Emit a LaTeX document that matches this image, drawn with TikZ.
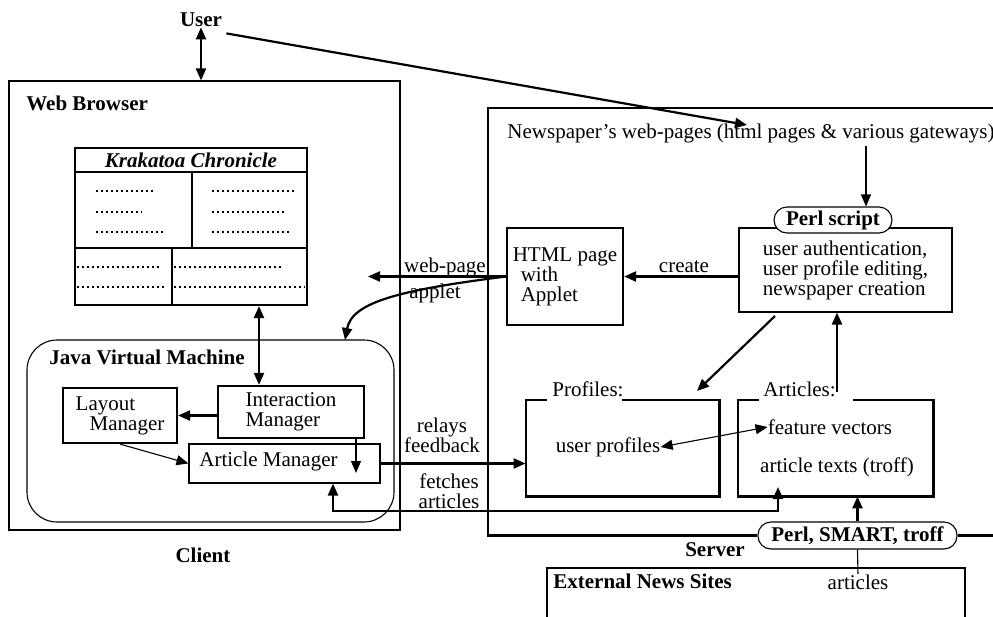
\documentclass[tikz,border=0pt]{standalone}
\usepackage{fontspec}
\setmainfont{Liberation Serif}
\usetikzlibrary{arrows.meta,calc}
\begin{document}
\begin{tikzpicture}[x=0.5pt,y=-0.5pt,
  every node/.style={font=\fontsize{10.5}{10}\selectfont, inner sep=0pt},
  thk/.style={line width=1.1pt},
  thn/.style={line width=0.55pt},
  box/.style={draw, rectangle, inner sep=0pt},
  tip/.style={-{Triangle[length=6pt,width=5pt]}},
  tips/.style={{Triangle[length=6pt,width=5pt]}-{Triangle[length=6pt,width=5pt]}},
  dots/.style={line width=0.9pt, dash pattern=on 0.8pt off 1.7pt},
  bold/.style={font=\fontsize{10.5}{10}\selectfont\bfseries},
]
\useasboundingbox (0,0) rectangle (993,617);

% ---------- Client side ----------
\node[bold] (user) at (201,20) {User};
\node[box,thn,minimum width=195.5pt,minimum height=224.5pt] (browser) at (204.5,305.5) {};
\node[bold,anchor=west] (browserlbl) at (26,103) {Web Browser};

\node[box,thk,minimum width=116pt,minimum height=78.5pt] (krak) at (191,226.5) {};
\node[font=\fontsize{10.5}{10}\selectfont\bfseries\itshape] (kraktitle) at (191,160) {Krakatoa Chronicle};
\draw[thk] (75,172) -- (307,172) (192,172) -- (192,248) (75,248) -- (307,248) (172,248) -- (172,305);
\draw[dots] (96,191) -- (153,191) (96,212) -- (142,212) (96,232) -- (163,232)
  (212,191) -- (295,191) (212,212) -- (285,212) (212,232) -- (290,232)
  (77,267) -- (160,267) (77,287) -- (166,287)
  (174,267) -- (283,267) (174,287) -- (305,287);

\node[box,thn,rounded corners=15pt,minimum width=183.5pt,minimum height=91pt] (jvm) at (210.5,431) {};
\node[bold,anchor=west] (jvmlbl) at (49,357) {Java Virtual Machine};
\node[box,thk,minimum width=57pt,minimum height=27.5pt,align=left] (layout) at (120,415.5) {Layout\\\hspace*{7pt}Manager};
\node[box,thk,minimum width=73pt,minimum height=26pt,align=left] (inter) at (291,412) {Interaction\\Manager};
\node[box,thn,minimum width=95.5pt,minimum height=19.5pt] (artm) at (284.5,463.5) {};
\node[anchor=west] (artmtxt) at (199,461) {Article Manager};
\node[bold] (client) at (203,555) {Client};

% ---------- Server side ----------
\node[draw,thn,rounded corners=6.5pt,minimum width=99.5pt,minimum height=13.5pt,bold] (smart) at (857.5,535.5) {Perl, SMART, troff};
\draw[thk] (993,108) -- (488,108) |- (smart.west);
\draw[thk] (smart.east) -- (993,535.5);
\node[bold] (server) at (715,550) {Server};

\node (webpages) at (751,133) {Newspaper’s web-pages (html pages \& various gateways)};
\node[box,thk,minimum width=58pt,minimum height=48.5pt,align=left] (html) at (565,276.5) {HTML page\\\hspace*{4pt}with\\\hspace*{4pt}Applet};
\node[box,thn,minimum width=106.5pt,minimum height=42pt,align=left] (perlbox) at (845.5,270) {user authentication,\\user profile editing,\\newspaper creation};
\node[draw,thn,fill=white,rounded corners=6.5pt,minimum width=59pt,minimum height=13pt,bold] (perlpill) at (833,220) {Perl script};

\node[minimum width=96.5pt,minimum height=48pt] (profiles) at (622.5,448) {};
\draw[thk] ([xshift=10.5pt]profiles.north west) -- (profiles.north west) -- (profiles.south west) -- (profiles.south east) -- (profiles.north east) -- ([xshift=-48.5pt]profiles.north east);
\node[anchor=west] (proflbl) at (552,389) {Profiles:};
\node[minimum width=97.5pt,minimum height=48pt] (articles) at (835.5,448) {};
\draw[thk] ([xshift=10.5pt]articles.north west) -- (articles.north west) -- (articles.south west) -- (articles.south east) -- (articles.north east) -- ([xshift=-40pt]articles.north east);
\node[anchor=west] (artlbl) at (763,389) {Articles:};
\node (uprof) at (608,447) {user profiles};
\node (fvec) at (830,427) {feature vectors};
\node (atext) at (837,467) {article texts (troff)};

\draw[thn] (547,617) -- (547,568) -- (965,568) -- (965,617);
\node[bold,anchor=west] (extlbl) at (553,581) {External News Sites};
\node (arttxt) at (858,582) {articles};

% ---------- labels ----------
\node (lblweb) at (445,267) {web-page};
\node (lblapp) at (435,293) {applet};
\node (lblcreate) at (684,267) {create};
\node[align=center] (lblrelay) at (442,435) {relays\\feedback};
\node[align=center] (lblfetch) at (449,491) {fetches\\articles};

% ---------- coordinates ----------
\coordinate (wptarget) at (747,125);
\coordinate (wpdown) at (866,146);
\coordinate (wpin) at (368,276.5);
\coordinate (appin) at (345,340);
\coordinate (kx) at (259,0);
\coordinate (ib) at (356,473);
\coordinate (fa) at (778,487);
\coordinate (fb) at (333,511);
\coordinate (pa) at (775,316);
\coordinate (pb) at (697,391);
\coordinate (aa) at (837,392);

% ---------- connectors ----------
\draw[thk,tips] (user.south) -- (user.south |- browser.north);
\draw[thk,tip] ([xshift=2pt,yshift=-3pt]user.south east) -- (wptarget);
\draw[thn,tip] (wpdown) -- (wpdown |- perlpill.north);
\draw[thk,tip] (perlbox.west |- html.east) -- (html.east);
\draw[thk,tip] (html.west) -- (wpin);
\draw[thk,tip] (html.west) .. controls (400,290) and (352,302) .. (appin);
\draw[thk,tips] (krak.south -| kx) -- (inter.north -| kx);
\draw[thk,tip] (inter.west |- layout.east) -- (layout.east);
\draw[thn,tip] (layout.south) -- (artm.west);
\draw[thn,tip] (inter.south -| ib) -- (ib);
\draw[thk,tip] (artm.east) -- (artm.east -| profiles.west);
\draw[thk,tips] (fa) |- (fb) -- (fb |- artm.south);
\draw[thn,tips] (uprof.east) -- (fvec.west);
\draw[thk,tip] (pa) -- (pb);
\draw[thk,tip] (aa) -- (aa |- perlbox.south);
\draw[thk,tip] (smart.north) -- (smart.north |- articles.south);
\draw[thn] (smart.south) -- (arttxt.north);
\end{tikzpicture}
\end{document}
